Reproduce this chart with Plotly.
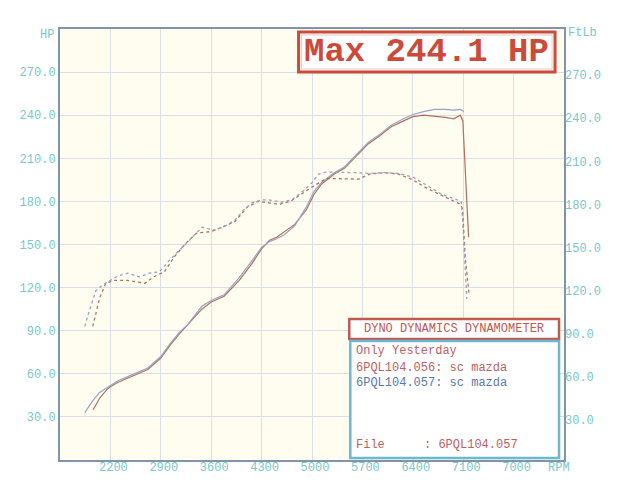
import plotly.graph_objects as go

# ---- data ----
x_tickvals = [2200, 2900, 3600, 4300, 5000, 5700, 6400, 7100, 7800]
x_ticktext = ["2200", "2900", "3600", "4300", "5000", "5700", "6400", "7100", "7000"]
y_tickvals = [30, 60, 90, 120, 150, 180, 210, 240, 270]
y_ticktext = ["30.0", "60.0", "90.0", "120.0", "150.0", "180.0", "210.0", "240.0", "270.0"]

# run 057 (blue) power
blue_hp_rpm = [1845, 1950, 2050, 2150, 2200, 2300, 2440, 2580, 2720, 2900, 3030, 3160, 3270, 3470, 3600,
               3780, 3990, 4170, 4300, 4410, 4510, 4620, 4760, 4920, 5030, 5130, 5310, 5450, 5600, 5780,
               5950, 6100, 6250, 6400, 6550, 6700, 6850, 6970, 7060, 7110]
blue_hp = [33, 41, 47, 50, 52, 55, 58, 61, 64, 72, 81, 89, 94, 107, 111,
           115, 127, 139, 148, 152, 154, 157, 163, 176, 187, 193, 200, 204, 212, 221,
           227, 233, 237, 240.5, 242.5, 244, 244.1, 243.5, 244, 242.5]

# run 056 (red) power
red_hp_rpm = [1960, 2050, 2150, 2200, 2300, 2440, 2580, 2720, 2900, 3030, 3160, 3270, 3470, 3600, 3780,
              3990, 4170, 4300, 4410, 4510, 4620, 4760, 4920, 5030, 5130, 5310, 5450, 5600, 5780, 5950,
              6100, 6250, 6400, 6550, 6700, 6850, 6970, 7060, 7095, 7135, 7175]
red_hp = [35, 43, 49, 51, 54, 57, 60, 63, 71, 80, 88, 94, 105, 110, 114,
          125, 137, 147, 153, 155, 159, 164, 174, 185, 192, 199, 203, 211, 220, 226,
          232, 235.5, 239, 240, 239.5, 238.5, 237.5, 240, 236, 195, 155]

# run 057 (blue) torque
blue_tq_rpm = [1845, 1890, 2000, 2094, 2200, 2300, 2440, 2600, 2740, 2880, 3020, 3200, 3300, 3474, 3654,
               3800, 3930, 4050, 4165, 4300, 4400, 4580, 4718, 4897, 5000, 5090, 5200, 5400, 5600, 5800,
               6000, 6200, 6400, 6600, 6800, 6970, 7070, 7090, 7120, 7150]
blue_tq = [93, 101, 118, 122, 125, 128, 130, 127.5, 130, 131, 139, 148, 153, 162, 160,
           163, 167, 174, 179, 181, 181, 179.6, 181, 188, 193, 199, 200.5, 200.5, 200, 199.5,
           200, 199.5, 197, 191, 185, 182, 180, 170, 140, 112]

# run 056 (red) torque
red_tq_rpm = [1955, 2052, 2136, 2250, 2440, 2550, 2680, 2800, 2950, 3080, 3250, 3400, 3600, 3750, 3930,
              4100, 4250, 4400, 4550, 4700, 4850, 5000, 5200, 5450, 5650, 5800, 6000, 6200, 6400, 6600,
              6800, 6970, 7060, 7090, 7130, 7180]
red_tq = [93, 113, 123, 125, 125, 124, 123, 127.5, 131, 141, 151, 158, 159, 162, 166,
          176, 180, 179, 178, 180, 185, 190, 196, 195.6, 195.5, 199, 200, 199, 195, 189,
          184, 180, 178, 175, 140, 116]

RED = "#b0705e"
BLUE = "#96a2c6"
TEAL = "#78c8c8"
MONO = "Liberation Mono, DejaVu Sans Mono, monospace"

# page body has an 8px margin: figure coords = window coords - 8
OFF = 8
L, T, R, B = 57, 29, 564, 460          # plot area in window pixels
W, H = 621 - OFF, 493 - OFF

fig = go.Figure()
fig.add_trace(go.Scatter(x=red_tq_rpm, y=red_tq, mode="lines", yaxis="y2",
                         line=dict(color=RED, width=1.3, dash="dot")))
fig.add_trace(go.Scatter(x=blue_tq_rpm, y=blue_tq, mode="lines", yaxis="y2",
                         line=dict(color=BLUE, width=1.3, dash="dot")))
fig.add_trace(go.Scatter(x=red_hp_rpm, y=red_hp, mode="lines",
                         line=dict(color=RED, width=1.2)))
fig.add_trace(go.Scatter(x=blue_hp_rpm, y=blue_hp, mode="lines",
                         line=dict(color=BLUE, width=1.2)))

axis_line = "#8294aa"
grid = "#d9dee8"
tickfont = dict(family=MONO, size=12, color=TEAL)

fig.update_layout(
    width=W, height=H,
    margin=dict(l=L - OFF, r=621 - R, t=T - OFF, b=493 - B),
    paper_bgcolor="white",
    plot_bgcolor="#fffdf0",
    showlegend=False,
    font=dict(family=MONO, size=12, color=TEAL),
    xaxis=dict(range=[1500, 8500], tickvals=x_tickvals, ticktext=x_ticktext,
               showgrid=True, gridcolor=grid, gridwidth=1, zeroline=False,
               showline=True, linecolor=axis_line, linewidth=2, mirror=True,
               ticks="", tickfont=tickfont, ticklabelshift=3, ticklabelstandoff=-5),
    yaxis=dict(range=[0, 300], tickvals=y_tickvals, ticktext=y_ticktext,
               showgrid=True, gridcolor=grid, gridwidth=1, zeroline=False,
               showline=True, linecolor=axis_line, linewidth=2, mirror=True,
               ticks="", tickfont=tickfont),
    yaxis2=dict(range=[0, 300], tickvals=y_tickvals, ticktext=y_ticktext,
                overlaying="y", side="right", showgrid=False, zeroline=False,
                showline=False, ticks="", ticklabelshift=3, tickfont=tickfont),
)


def px(xp):
    return (xp - L) / (R - L)


def py(yp):
    return (B - yp) / (B - T)


shapes = [
    dict(type="rect", xref="paper", yref="paper", x0=px(297), x1=px(555),
         y0=py(72), y1=py(32), line=dict(color="#cc4a3a", width=3), fillcolor="white"),
    dict(type="rect", xref="paper", yref="paper", x0=px(300), x1=px(552),
         y0=py(69), y1=py(35), line=dict(color="#f0c8c0", width=1), fillcolor="rgba(0,0,0,0)"),
    dict(type="rect", xref="paper", yref="paper", x0=px(348), x1=px(559),
         y0=py(339), y1=py(319), line=dict(color="#c05a50", width=2.5), fillcolor="white"),
    dict(type="rect", xref="paper", yref="paper", x0=px(349), x1=px(559),
         y0=py(458), y1=py(341), line=dict(color="#6ab8d4", width=2.5), fillcolor="white"),
]
fig.update_layout(shapes=shapes)

ann = [
    dict(x=px(426), y=py(52), text="<b>Max 244.1 HP</b>",
         font=dict(family=MONO, size=34, color="#cc4a3a"), xanchor="center", yanchor="middle"),
    dict(x=px(453), y=py(329), text="DYNO DYNAMICS DYNAMOMETER",
         font=dict(family=MONO, size=12, color="#c05a50"), xanchor="center", yanchor="middle"),
    dict(x=px(353), y=py(351), text="Only Yesterday",
         font=dict(family=MONO, size=12, color="#c06060"), xanchor="left", yanchor="middle"),
    dict(x=px(353), y=py(368), text="6PQL104.056: sc mazda",
         font=dict(family=MONO, size=12, color="#c06060"), xanchor="left", yanchor="middle"),
    dict(x=px(353), y=py(383), text="6PQL104.057: sc mazda",
         font=dict(family=MONO, size=12, color="#5a78a8"), xanchor="left", yanchor="middle"),
    dict(x=px(353), y=py(445), text="File",
         font=dict(family=MONO, size=12, color="#c06060"), xanchor="left", yanchor="middle"),
    dict(x=px(421), y=py(445), text=": 6PQL104.057",
         font=dict(family=MONO, size=12, color="#c06060"), xanchor="left", yanchor="middle"),
    dict(x=px(53), y=py(35), text="HP",
         font=dict(family=MONO, size=12, color=TEAL), xanchor="right", yanchor="middle"),
    dict(x=px(566), y=py(33), text="FtLb",
         font=dict(family=MONO, size=12, color=TEAL), xanchor="left", yanchor="middle"),
    dict(x=px(546), y=py(468), text="RPM",
         font=dict(family=MONO, size=12, color=TEAL), xanchor="left", yanchor="middle"),
]
for a in ann:
    a["xref"] = "paper"
    a["yref"] = "paper"
    a["showarrow"] = False
fig.update_layout(annotations=ann)

fig.write_html("out.html")
